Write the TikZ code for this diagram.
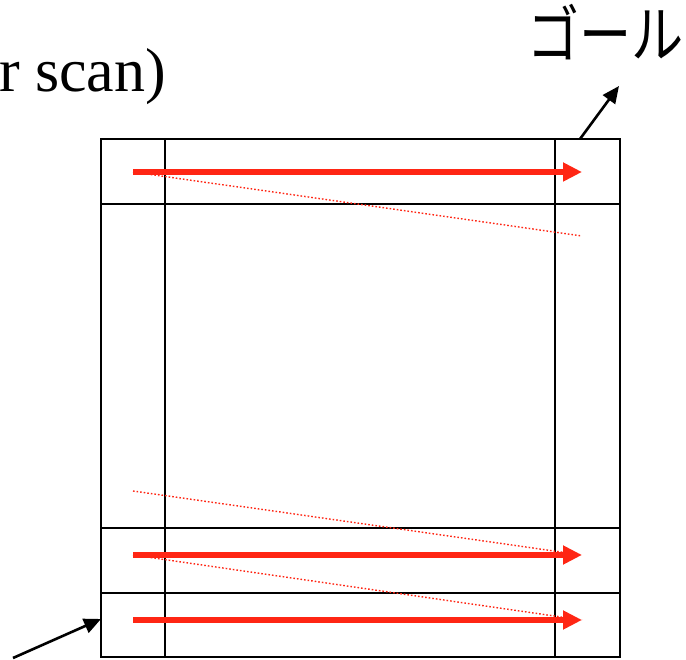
\documentclass[tikz,border=0pt]{standalone}
\usepackage{fontspec}
\setmainfont{Liberation Serif}
\newfontfamily\cjk{Noto Sans CJK JP}
\usetikzlibrary{arrows.meta}
\definecolor{scanred}{RGB}{255,38,20}
\tikzset{
  gridline/.style={line width=1.6pt, draw=black},
  scanarrow/.style={line width=6pt, draw=scanred, -{Triangle[length=19pt,width=18pt]}},
  retrace/.style={line width=1.4pt, draw=scanred, dash pattern=on 1.6pt off 2pt},
  pointer/.style={line width=2.6pt, draw=black, -{Triangle[length=17pt,width=15pt]}},
  lbl/.style={inner sep=0pt, outer sep=0pt}
}
\begin{document}
\begin{tikzpicture}[x=1pt,y=-1pt]
\useasboundingbox (0,0) rectangle (686,660);
% grid
\coordinate (tl) at (101,139);
\coordinate (br) at (620,657);
\draw[gridline] (tl) rectangle (br);
\draw[gridline] (165,139) -- (165,657);
\draw[gridline] (555,139) -- (555,657);
\draw[gridline] (101,204) -- (620,204);
\draw[gridline] (101,528) -- (620,528);
\draw[gridline] (101,593) -- (620,593);
% scan coordinates
\coordinate (s1) at (133,172);
\coordinate (e1) at (582,172);
\coordinate (d1) at (582,236);
\coordinate (s2) at (133,491);
\coordinate (s3) at (133,555);
\coordinate (e3) at (582,555);
\coordinate (s4) at (133,620);
\coordinate (e4) at (582,620);
% retrace lines
\draw[retrace] (s1) -- (d1);
\draw[retrace] (s2) -- (e3);
\draw[retrace] (s3) -- (e4);
% scan arrows
\draw[scanarrow] (s1) -- (e1);
\draw[scanarrow] (s3) -- (e3);
\draw[scanarrow] (s4) -- (e4);
% labels
\node[lbl, anchor=base east, font=\fontsize{62}{62}\selectfont] (scanlbl) at (166,92) {r scan)};
\node[lbl, anchor=base east, font=\cjk\fontsize{60}{60}\selectfont] (goal) at (684,58) {\scalebox{0.87}[1.04]{ゴール}};
% pointers
\coordinate (gfrom) at (580,139);
\coordinate (gto) at (619,86);
\draw[pointer] (gfrom) -- (gto);
\coordinate (sfrom) at (13,658);
\coordinate (sto) at (101,619);
\draw[pointer] (sfrom) -- (sto);
\end{tikzpicture}
\end{document}
